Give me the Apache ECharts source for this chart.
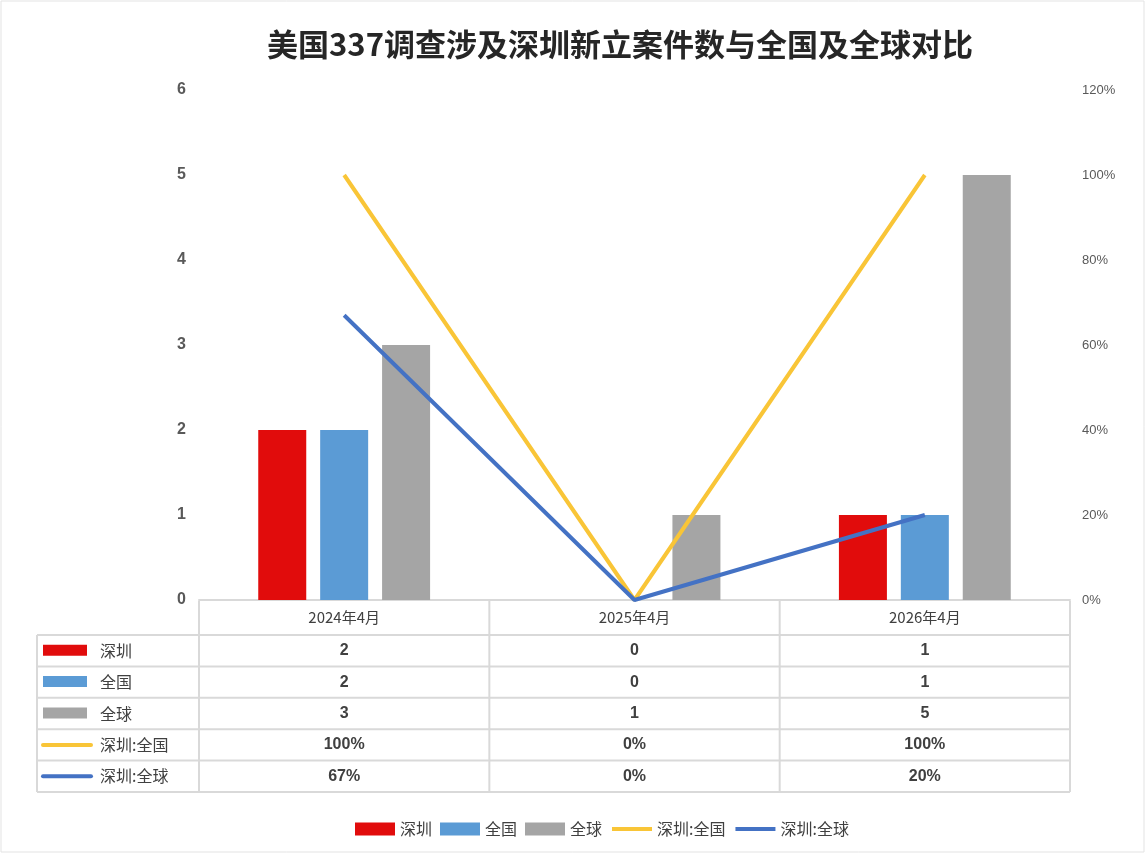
<!DOCTYPE html>
<html>
<head>
<meta charset="utf-8">
<script src="https://cdn.jsdelivr.net/npm/echarts@6/dist/echarts.min.js"></script>
<style>
html,body{margin:0;padding:0;background:#fff;}
#main{width:1146px;height:854px;}
</style>
</head>
<body>
<div id="main"></div>
<script>
const titleText = '美国337调查涉及深圳新立案件数与全国及全球对比';
const categories = ['2024年4月', '2025年4月', '2026年4月'];
const seriesNames = ['深圳', '全国', '全球', '深圳:全国', '深圳:全球'];
const shenzhenCount = [2, 0, 1];
const nationalCount = [2, 0, 1];
const globalCount = [3, 1, 5];
const szNationalRatio = [100, 0, 100];
const szGlobalRatio = [67, 0, 20];

const colors = ['#E10C0C', '#5B9BD5', '#A5A5A5', '#F9C537', '#4472C4'];
const CJK = '"Noto Sans CJK SC", "Liberation Sans", sans-serif';
const NUM = '"Liberation Sans", Arial, "Noto Sans CJK SC", sans-serif';

const chart = echarts.init(document.getElementById('main'));

const option = {
  backgroundColor: '#ffffff',
  animation: false,
  grid: { left: 199, right: 76, top: 90, bottom: 254, containLabel: false },
  legend: {
    left: 350,
    top: 816,
    itemWidth: 40,
    itemHeight: 13,
    itemGap: 8,
    textStyle: { fontFamily: CJK, fontSize: 16, color: '#404040' },
    data: [
      { name: seriesNames[0], icon: 'rect' },
      { name: seriesNames[1], icon: 'rect' },
      { name: seriesNames[2], icon: 'rect' },
      { name: seriesNames[3], itemStyle: { opacity: 0 }, lineStyle: { width: 4 } },
      { name: seriesNames[4], itemStyle: { opacity: 0 }, lineStyle: { width: 4 } }
    ]
  },
  xAxis: {
    type: 'category',
    data: categories,
    axisLine: { show: true, lineStyle: { color: '#D9D9D9', width: 2 } },
    axisTick: { show: false },
    axisLabel: { fontFamily: CJK, fontSize: 15, color: '#404040', margin: 10 },
    splitLine: { show: false }
  },
  yAxis: [
    {
      type: 'value', min: 0, max: 6, interval: 1,
      axisLine: { show: false }, axisTick: { show: false },
      splitLine: { show: false },
      axisLabel: { fontFamily: NUM, fontSize: 16, fontWeight: 'bold', color: '#595959', margin: 13 }
    },
    {
      type: 'value', min: 0, max: 120, interval: 20,
      axisLine: { show: false }, axisTick: { show: false },
      splitLine: { show: false },
      axisLabel: { fontFamily: NUM, fontSize: 13, color: '#595959', margin: 12, formatter: '{value}%' }
    }
  ],
  series: [
    { name: seriesNames[0], type: 'bar', data: shenzhenCount, barWidth: 48, barGap: '29%', itemStyle: { color: colors[0] } },
    { name: seriesNames[1], type: 'bar', data: nationalCount, barWidth: 48, barGap: '29%', itemStyle: { color: colors[1] } },
    { name: seriesNames[2], type: 'bar', data: globalCount, barWidth: 48, barGap: '29%', itemStyle: { color: colors[2] } },
    { name: seriesNames[3], type: 'line', yAxisIndex: 1, data: szNationalRatio, symbol: 'none', lineStyle: { color: colors[3], width: 4 }, itemStyle: { color: colors[3] } },
    { name: seriesNames[4], type: 'line', yAxisIndex: 1, data: szGlobalRatio, symbol: 'none', lineStyle: { color: colors[4], width: 4 }, itemStyle: { color: colors[4] } }
  ]
};
chart.setOption(option);

// Data table built from the arrays, positioned from the category axis
const xs = categories.map(c => chart.convertToPixel({ xAxisIndex: 0 }, c));
const band = xs[1] - xs[0];
const colLeft = xs[0] - band / 2;
const colRight = xs[xs.length - 1] + band / 2;
const yTop = chart.convertToPixel({ yAxisIndex: 0 }, 0) + 1;
const headerH = 34;
const rowH = 31.4;
const tableLeft = 37;
const lineColor = '#D9D9D9';

const rowsValues = [
  shenzhenCount.map(String),
  nationalCount.map(String),
  globalCount.map(String),
  szNationalRatio.map(v => v + '%'),
  szGlobalRatio.map(v => v + '%')
];

const g = [];
g.push({ type: 'rect', shape: { x: 1, y: 1, width: 1143, height: 851 }, style: { fill: 'none', stroke: '#E3E3E3', lineWidth: 1 }, z: 0 });
g.push({ type: 'text', style: { x: 620, y: 44, text: titleText, textAlign: 'center', textVerticalAlign: 'middle', font: 'bold 31px ' + CJK, fill: '#262626' } });

const rowsTop = yTop + headerH;
const tableBottom = rowsTop + rowH * rowsValues.length;
function hline(x1, x2, y) { g.push({ type: 'line', shape: { x1, y1: y, x2, y2: y }, style: { stroke: lineColor, lineWidth: 2 } }); }
function vline(x, y1, y2) { g.push({ type: 'line', shape: { x1: x, y1, x2: x, y2 }, style: { stroke: lineColor, lineWidth: 2 } }); }
for (let r = 0; r <= rowsValues.length; r++) hline(tableLeft, colRight, rowsTop + r * rowH);
vline(tableLeft, rowsTop, tableBottom);
vline(colLeft, yTop, tableBottom);
for (let i = 0; i < xs.length; i++) vline(xs[i] + band / 2, yTop, tableBottom);

rowsValues.forEach((vals, r) => {
  const cy = rowsTop + r * rowH + rowH / 2;
  if (r < 3) {
    g.push({ type: 'rect', shape: { x: 43, y: cy - 6, width: 44, height: 11 }, style: { fill: colors[r] } });
  } else {
    g.push({ type: 'line', shape: { x1: 43, y1: cy, x2: 91, y2: cy }, style: { stroke: colors[r], lineWidth: 4, lineCap: 'round' } });
  }
  g.push({ type: 'text', style: { x: 100, y: cy, text: seriesNames[r], textAlign: 'left', textVerticalAlign: 'middle', font: '16px ' + CJK, fill: '#404040' } });
  vals.forEach((v, i) => {
    g.push({ type: 'text', style: { x: xs[i], y: cy, text: v, textAlign: 'center', textVerticalAlign: 'middle', font: 'bold 16px ' + NUM, fill: '#404040' } });
  });
});

chart.setOption({ graphic: { elements: g } });
</script>
</body>
</html>
